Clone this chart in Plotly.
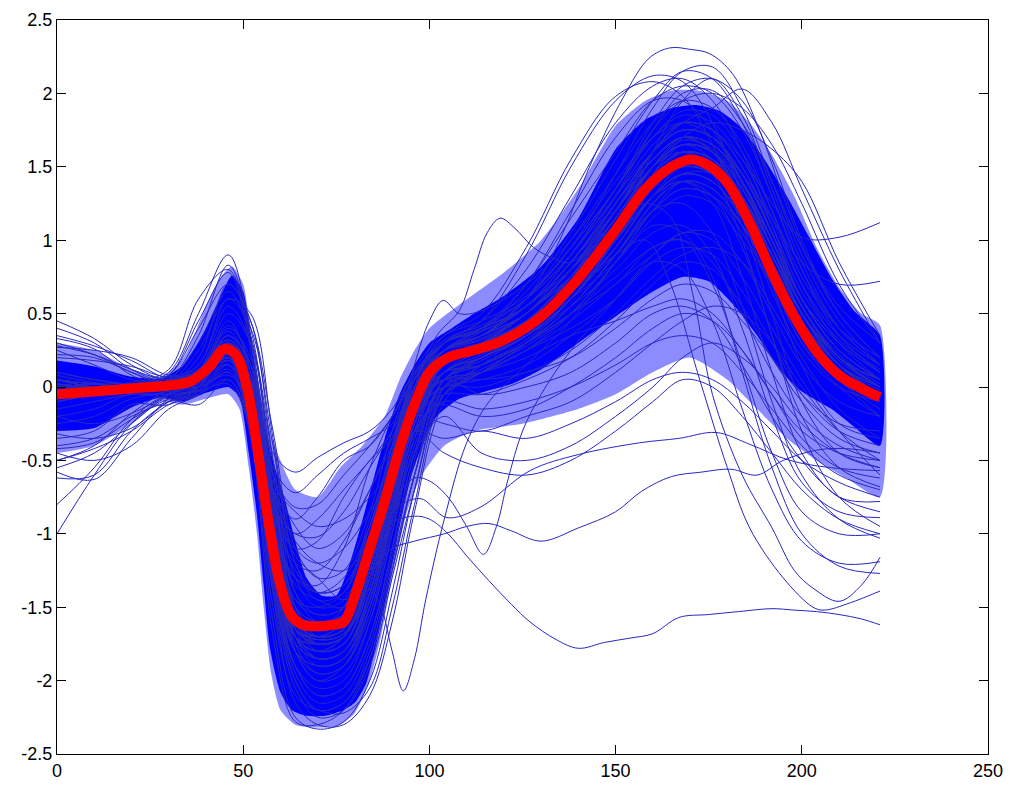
import plotly.graph_objects as go

# Sample positions shared by most of the individual waveforms
KNOTS = [0, 10, 20, 30, 38, 46, 52, 58, 64, 70, 77, 84, 90, 96, 104,
         114, 126, 138, 150, 160, 168, 176, 184, 192, 200, 210, 221]

# Average waveform (red)
MEAN_X = [0, 10, 20, 30, 36, 41, 45, 48, 51, 54, 57, 60, 63, 66, 70, 74, 77, 80, 84, 88,
          92, 96, 100, 105, 112, 120, 130, 140, 150, 158, 165, 170, 175, 180, 186, 192,
          198, 204, 210, 216, 221]
MEAN_Y = [-0.05, -0.03, -0.01, 0.01, 0.04, 0.14, 0.26, 0.22, 0.0, -0.45, -0.95, -1.35,
          -1.56, -1.62, -1.63, -1.62, -1.6, -1.42, -1.1, -0.78, -0.42, -0.12, 0.1, 0.2,
          0.25, 0.32, 0.48, 0.74, 1.07, 1.35, 1.5, 1.55, 1.51, 1.39, 1.12, 0.78, 0.48,
          0.24, 0.08, -0.01, -0.07]

# Densely overplotted core of the bundle: upper and lower edges
CORE_UP_X = [0, 10, 20, 28, 34, 40, 44, 47, 50, 52, 55, 58, 61, 64, 67, 71, 75, 78, 81, 84,
             88, 92, 96, 100, 106, 112, 120, 130, 140, 150, 158, 165, 172, 178, 184, 190,
             196, 202, 208, 214, 221]
CORE_UP_Y = [0.18, 0.14, 0.07, 0.06, 0.15, 0.4, 0.62, 0.76, 0.65, 0.35, -0.2, -0.5, -0.75,
             -1.05, -1.3, -1.42, -1.42, -1.25, -1.0, -0.72, -0.35, -0.05, 0.15, 0.3, 0.4,
             0.5, 0.62, 0.82, 1.15, 1.62, 1.82, 1.9, 1.92, 1.88, 1.76, 1.55, 1.3, 1.02,
             0.74, 0.52, 0.35]
CORE_LO_X = [0, 10, 20, 28, 34, 40, 46, 49, 51.5, 53.7, 55.5, 57.2, 60, 63, 67, 72, 77, 80,
             83, 86, 89, 92, 95, 98, 102, 108, 115, 122, 130, 140, 150, 160, 168, 175, 182,
             188, 194, 200, 208, 214, 221]
CORE_LO_Y = [-0.3, -0.28, -0.14, -0.07, -0.1, -0.04, 0.0, -0.07, -0.45, -0.87, -1.35, -1.78,
             -2.08, -2.2, -2.24, -2.24, -2.2, -2.15, -2.02, -1.72, -1.35, -0.95, -0.62, -0.4,
             -0.2, -0.08, -0.03, 0.02, 0.12, 0.3, 0.48, 0.65, 0.75, 0.72, 0.55, 0.35, 0.12,
             -0.03, -0.15, -0.27, -0.4]

# Looser outer zone where traces overlap less densely
HALO_UP_X = [0, 10, 20, 28, 34, 40, 44, 47, 50, 53, 56, 60, 64, 70, 76, 82, 88, 92, 96, 100,
             108, 120, 130, 140, 150, 158, 165, 172, 180, 186, 192, 198, 204, 210, 216, 221]
HALO_UP_Y = [0.3, 0.25, 0.12, 0.07, 0.2, 0.55, 0.75, 0.82, 0.7, 0.2, -0.2, -0.5, -0.7,
             -0.75, -0.55, -0.4, -0.2, 0.05, 0.25, 0.4, 0.56, 0.78, 1.0, 1.35, 1.78, 1.95,
             2.02, 2.02, 1.95, 1.8, 1.58, 1.3, 0.95, 0.68, 0.5, 0.42]
HALO_LO_X = [0, 10, 20, 28, 34, 40, 46, 49, 51.5, 53.7, 55.5, 57.5, 60, 64, 70, 76, 80, 84,
             87, 90, 94, 98, 104, 112, 125, 140, 150, 160, 170, 180, 188, 196, 204, 212, 221]
HALO_LO_Y = [-0.45, -0.4, -0.25, -0.1, -0.12, -0.08, -0.05, -0.15, -0.55, -1.0, -1.5, -1.95,
             -2.2, -2.3, -2.32, -2.3, -2.22, -2.0, -1.7, -1.3, -0.85, -0.6, -0.4, -0.3, -0.25,
             -0.15, -0.05, 0.1, 0.2, 0.05, -0.15, -0.35, -0.5, -0.62, -0.75]

# Waveforms starting high on the left
LEFT_HIGH = [
    [0.45, 0.33, 0.15, 0.05, 0.15, 0.55, 0.3, -0.6, -1.5, -1.7, -1.65, -1.1, -0.5, 0.0, 0.25, 0.35, 0.5, 0.8, 1.2, 1.55, 1.7, 1.6, 1.3, 0.9, 0.5, 0.2, 0.05],
    [0.4, 0.3, 0.12, 0.03, 0.1, 0.45, 0.1, -0.9, -1.6, -1.8, -1.75, -1.3, -0.7, -0.1, 0.2, 0.3, 0.45, 0.7, 1.1, 1.45, 1.65, 1.6, 1.35, 1.0, 0.6, 0.3, 0.1],
    [0.35, 0.28, 0.18, 0.06, 0.12, 0.35, 0.05, -1.0, -1.8, -2.0, -1.9, -1.5, -0.9, -0.3, 0.1, 0.2, 0.35, 0.6, 0.95, 1.3, 1.5, 1.45, 1.2, 0.85, 0.5, 0.2, 0.0],
    [0.3, 0.22, 0.1, 0.02, 0.05, 0.3, -0.1, -1.2, -1.9, -2.1, -2.05, -1.7, -1.1, -0.45, 0.05, 0.2, 0.4, 0.75, 1.2, 1.6, 1.8, 1.75, 1.5, 1.05, 0.6, 0.25, 0.05],
    [0.27, 0.25, 0.2, 0.08, 0.1, 0.4, 0.2, -0.7, -1.4, -1.55, -1.5, -1.05, -0.45, 0.05, 0.3, 0.38, 0.55, 0.9, 1.35, 1.7, 1.85, 1.8, 1.55, 1.15, 0.7, 0.35, 0.15],
    [0.22, 0.2, 0.1, 0.0, 0.02, 0.2, -0.2, -1.3, -2.0, -2.2, -2.15, -1.8, -1.2, -0.6, -0.05, 0.1, 0.3, 0.55, 0.9, 1.2, 1.35, 1.3, 1.1, 0.75, 0.4, 0.1, -0.1],
    [0.28, 0.22, 0.12, 0.05, 0.12, 0.5, 0.3, -0.5, -1.3, -1.5, -1.45, -1.0, -0.45, 0.05, 0.3, 0.4, 0.55, 0.85, 1.25, 1.6, 1.75, 1.7, 1.45, 1.05, 0.6, 0.3, 0.1],
    [0.2, 0.18, 0.14, 0.07, 0.15, 0.6, 0.4, -0.4, -1.2, -1.4, -1.35, -0.95, -0.4, 0.08, 0.32, 0.42, 0.6, 0.9, 1.3, 1.65, 1.8, 1.75, 1.5, 1.1, 0.65, 0.32, 0.12],
    [0.33, 0.26, 0.08, 0.0, 0.08, 0.42, 0.15, -0.85, -1.65, -1.85, -1.8, -1.4, -0.8, -0.2, 0.15, 0.25, 0.42, 0.72, 1.12, 1.5, 1.68, 1.62, 1.38, 1.0, 0.55, 0.22, 0.02],
    [0.25, 0.15, 0.05, 0.03, 0.2, 0.7, 0.45, -0.3, -1.1, -1.3, -1.25, -0.85, -0.3, 0.12, 0.35, 0.45, 0.62, 0.95, 1.35, 1.7, 1.88, 1.85, 1.6, 1.2, 0.75, 0.4, 0.2],
]

# Waveforms starting low on the left
LEFT_LOW = [
    [-1.0, -0.6, -0.25, -0.05, 0.0, 0.15, -0.1, -1.1, -1.7, -1.85, -1.8, -1.4, -0.8, -0.2, 0.15, 0.25, 0.4, 0.65, 1.0, 1.35, 1.5, 1.45, 1.2, 0.8, 0.4, 0.1, -0.1],
    [-0.8, -0.55, -0.22, -0.04, 0.02, 0.2, -0.05, -1.0, -1.65, -1.75, -1.7, -1.25, -0.65, -0.1, 0.2, 0.3, 0.45, 0.75, 1.15, 1.5, 1.65, 1.55, 1.25, 0.85, 0.45, 0.15, 0.0],
    [-0.58, -0.63, -0.35, -0.08, 0.0, 0.25, 0.0, -0.95, -1.6, -1.7, -1.65, -1.2, -0.6, -0.05, 0.2, 0.28, 0.42, 0.7, 1.05, 1.4, 1.55, 1.5, 1.2, 0.8, 0.4, 0.1, -0.05],
    [-0.55, -0.45, -0.25, -0.06, -0.02, 0.1, -0.25, -1.3, -1.95, -2.15, -2.1, -1.75, -1.15, -0.5, 0.05, 0.15, 0.3, 0.55, 0.9, 1.25, 1.45, 1.45, 1.25, 0.9, 0.5, 0.15, -0.05],
    [-0.5, -0.4, -0.18, -0.02, 0.03, 0.3, 0.05, -0.85, -1.5, -1.6, -1.55, -1.1, -0.5, 0.0, 0.25, 0.32, 0.5, 0.8, 1.2, 1.55, 1.7, 1.65, 1.4, 1.0, 0.55, 0.2, 0.0],
    [-0.4, -0.35, -0.2, -0.1, -0.05, 0.05, -0.3, -1.4, -2.05, -2.25, -2.2, -1.9, -1.3, -0.7, -0.05, 0.1, 0.25, 0.5, 0.85, 1.15, 1.3, 1.25, 1.0, 0.7, 0.35, 0.05, -0.2],
    [-0.62, -0.6, -0.3, -0.1, -0.03, 0.18, -0.1, -1.15, -1.8, -1.95, -1.9, -1.5, -0.9, -0.3, 0.1, 0.2, 0.35, 0.6, 0.95, 1.3, 1.45, 1.4, 1.15, 0.8, 0.45, 0.15, -0.05],
    [-0.35, -0.3, -0.12, -0.12, 0.0, 0.22, -0.05, -1.0, -1.7, -1.8, -1.75, -1.35, -0.75, -0.2, 0.15, 0.25, 0.4, 0.7, 1.1, 1.45, 1.6, 1.55, 1.3, 0.9, 0.5, 0.18, 0.0],
    [-0.45, -0.5, -0.4, -0.15, -0.05, 0.15, -0.15, -1.15, -1.75, -1.85, -1.8, -1.45, -0.85, -0.25, 0.1, 0.2, 0.35, 0.6, 1.0, 1.35, 1.5, 1.45, 1.2, 0.85, 0.45, 0.1, -0.1],
    [-0.25, -0.2, -0.08, -0.03, 0.02, 0.25, 0.0, -0.95, -1.6, -1.75, -1.7, -1.3, -0.7, -0.15, 0.15, 0.25, 0.4, 0.7, 1.05, 1.4, 1.55, 1.5, 1.25, 0.85, 0.45, 0.15, -0.05],
    [-0.42, -0.38, -0.22, -0.08, -0.02, 0.12, -0.2, -1.25, -1.9, -2.1, -2.05, -1.7, -1.1, -0.45, 0.05, 0.15, 0.3, 0.55, 0.9, 1.25, 1.4, 1.35, 1.1, 0.75, 0.35, 0.05, -0.15],
    [-0.32, -0.35, -0.28, -0.1, 0.0, 0.2, -0.05, -1.05, -1.7, -1.85, -1.8, -1.4, -0.8, -0.2, 0.15, 0.25, 0.42, 0.72, 1.1, 1.45, 1.6, 1.55, 1.3, 0.9, 0.5, 0.15, -0.02],
    [-0.5, -0.42, -0.3, -0.12, -0.05, 0.1, -0.25, -1.35, -2.0, -2.2, -2.15, -1.85, -1.25, -0.6, 0.0, 0.12, 0.28, 0.5, 0.85, 1.2, 1.35, 1.3, 1.05, 0.7, 0.3, 0.0, -0.2],
    [-0.2, -0.25, -0.18, -0.05, 0.05, 0.35, 0.15, -0.75, -1.45, -1.55, -1.5, -1.0, -0.4, 0.05, 0.3, 0.38, 0.55, 0.85, 1.25, 1.6, 1.75, 1.7, 1.45, 1.05, 0.6, 0.25, 0.05],
]

# Waveforms with unusual first peaks
FIRST_PEAK = [
    [0.1, 0.05, 0.02, 0.1, 0.5, 0.9, 0.35, -0.8, -1.7, -1.9, -1.85, -1.45, -0.85, -0.25, 0.15, 0.25, 0.4, 0.7, 1.1, 1.45, 1.6, 1.55, 1.3, 0.9, 0.5, 0.2, 0.0],
    [-0.1, -0.05, 0.0, 0.05, 0.35, 0.83, 0.4, -0.6, -1.5, -1.65, -1.6, -1.1, -0.5, 0.0, 0.25, 0.35, 0.5, 0.8, 1.2, 1.55, 1.7, 1.65, 1.4, 1.0, 0.55, 0.2, 0.05],
    [0.0, 0.02, 0.03, 0.12, 0.6, 0.8, 0.3, -0.9, -1.75, -1.95, -1.9, -1.55, -0.95, -0.35, 0.1, 0.2, 0.35, 0.6, 1.0, 1.35, 1.5, 1.45, 1.2, 0.85, 0.45, 0.15, -0.05],
    [0.05, 0.0, 0.0, 0.08, 0.45, 0.78, 0.25, -1.0, -1.8, -2.0, -1.95, -1.6, -1.0, -0.4, 0.05, 0.18, 0.35, 0.65, 1.05, 1.4, 1.6, 1.55, 1.3, 0.95, 0.5, 0.15, -0.05],
    [-0.15, -0.1, -0.05, -0.05, -0.03, 0.02, -0.3, -1.2, -1.8, -1.9, -1.85, -1.5, -0.9, -0.3, 0.1, 0.2, 0.35, 0.6, 1.0, 1.3, 1.45, 1.4, 1.15, 0.8, 0.4, 0.1, -0.1],
    [-0.2, -0.15, -0.05, -0.08, -0.12, 0.05, -0.25, -1.1, -1.7, -1.85, -1.8, -1.4, -0.8, -0.2, 0.15, 0.25, 0.4, 0.7, 1.1, 1.45, 1.6, 1.55, 1.3, 0.95, 0.5, 0.2, 0.0],
    [0.0, 0.0, 0.02, 0.08, 0.4, 0.7, 0.45, -0.5, -1.4, -1.6, -1.55, -1.05, -0.45, 0.05, 0.3, 0.4, 0.55, 0.85, 1.25, 1.6, 1.75, 1.7, 1.45, 1.05, 0.6, 0.25, 0.05],
    [0.05, 0.02, 0.0, 0.05, 0.3, 0.65, 0.35, -0.7, -1.55, -1.75, -1.7, -1.3, -0.7, -0.1, 0.2, 0.3, 0.45, 0.75, 1.15, 1.5, 1.65, 1.6, 1.35, 0.95, 0.5, 0.2, 0.0],
    [-0.05, 0.0, 0.0, 0.03, 0.25, 0.6, 0.5, -0.35, -1.2, -1.45, -1.4, -0.95, -0.4, 0.08, 0.3, 0.4, 0.55, 0.85, 1.25, 1.6, 1.75, 1.7, 1.45, 1.05, 0.6, 0.25, 0.05],
    [0.0, 0.0, 0.0, 0.0, 0.0, 0.08, -0.1, -1.0, -1.7, -1.85, -1.8, -1.45, -0.85, -0.25, 0.1, 0.2, 0.35, 0.6, 0.95, 1.3, 1.45, 1.4, 1.15, 0.8, 0.4, 0.1, -0.1],
]

# Waveforms with a shallow trough
SHALLOW_TROUGH = [
    [0.05, 0.0, 0.0, 0.02, 0.1, 0.35, 0.15, -0.45, -0.58, -0.48, -0.38, -0.3, -0.15, 0.1, 0.3, 0.4, 0.55, 0.85, 1.25, 1.6, 1.75, 1.7, 1.45, 1.05, 0.6, 0.25, 0.05],
    [0.0, 0.0, 0.02, 0.03, 0.12, 0.3, 0.05, -0.6, -0.82, -0.8, -0.6, -0.4, -0.2, 0.05, 0.3, 0.4, 0.6, 0.9, 1.3, 1.6, 1.75, 1.7, 1.45, 1.05, 0.6, 0.25, 0.05],
    [-0.05, -0.02, 0.0, 0.02, 0.1, 0.25, -0.05, -0.8, -1.0, -1.02, -0.85, -0.55, -0.3, 0.0, 0.25, 0.35, 0.5, 0.8, 1.2, 1.5, 1.65, 1.6, 1.35, 0.95, 0.55, 0.2, 0.0],
    [0.02, 0.0, 0.0, 0.02, 0.1, 0.3, 0.0, -0.85, -1.2, -1.25, -1.05, -0.7, -0.35, 0.0, 0.25, 0.33, 0.5, 0.8, 1.15, 1.5, 1.65, 1.6, 1.35, 0.95, 0.55, 0.2, 0.0],
    [-0.05, -0.03, 0.0, 0.0, 0.08, 0.2, -0.1, -1.0, -1.3, -1.35, -1.1, -0.55, -0.2, 0.05, 0.25, 0.3, 0.45, 0.75, 1.1, 1.45, 1.6, 1.55, 1.3, 0.9, 0.5, 0.15, -0.05],
    [0.0, 0.0, 0.0, 0.02, 0.1, 0.28, -0.05, -1.05, -1.45, -1.5, -1.4, -0.9, -0.45, -0.05, 0.2, 0.3, 0.45, 0.75, 1.15, 1.5, 1.65, 1.6, 1.35, 0.95, 0.5, 0.15, -0.05],
    [0.05, 0.02, 0.0, 0.02, 0.12, 0.38, 0.1, -0.7, -0.9, -0.75, -0.5, -0.4, -0.2, 0.1, 0.3, 0.4, 0.55, 0.85, 1.25, 1.55, 1.7, 1.65, 1.4, 1.0, 0.55, 0.2, 0.0],
    [0.0, 0.0, 0.0, 0.02, 0.1, 0.3, 0.0, -0.85, -1.1, -1.05, -0.75, -0.5, -0.35, -0.05, 0.2, 0.3, 0.45, 0.75, 1.1, 1.45, 1.6, 1.55, 1.3, 0.9, 0.5, 0.15, -0.05],
    [0.0, 0.0, 0.0, 0.02, 0.1, 0.25, -0.1, -0.95, -1.3, -1.4, -1.35, -1.0, -0.6, -0.2, 0.15, 0.25, 0.4, 0.7, 1.05, 1.4, 1.55, 1.5, 1.25, 0.85, 0.45, 0.12, -0.05],
    [0.02, 0.0, 0.0, 0.02, 0.12, 0.32, 0.1, -0.55, -0.72, -0.6, -0.45, -0.35, -0.25, 0.0, 0.25, 0.35, 0.5, 0.8, 1.2, 1.5, 1.65, 1.6, 1.35, 0.95, 0.55, 0.2, 0.0],
    [0.0, 0.0, 0.0, 0.02, 0.1, 0.3, 0.1, -0.6, -0.95, -1.1, -1.0, -0.7, -0.4, -0.05, 0.2, 0.3, 0.45, 0.75, 1.15, 1.5, 1.65, 1.6, 1.35, 0.95, 0.55, 0.2, 0.0],
    [0.02, 0.0, 0.0, 0.02, 0.1, 0.28, 0.0, -0.8, -1.25, -1.4, -1.3, -0.95, -0.5, -0.1, 0.2, 0.3, 0.45, 0.75, 1.1, 1.45, 1.6, 1.55, 1.3, 0.9, 0.5, 0.15, -0.05],
    [0.0, 0.0, 0.0, 0.02, 0.12, 0.32, 0.05, -0.7, -1.05, -1.2, -1.25, -1.05, -0.7, -0.25, 0.1, 0.25, 0.4, 0.7, 1.05, 1.4, 1.55, 1.5, 1.25, 0.85, 0.45, 0.12, -0.05],
    [0.0, 0.0, 0.0, 0.02, 0.1, 0.3, 0.05, -0.75, -1.15, -1.3, -1.45, -1.3, -0.85, -0.3, 0.1, 0.22, 0.38, 0.68, 1.05, 1.4, 1.55, 1.5, 1.25, 0.85, 0.45, 0.12, -0.05],
    [0.02, 0.0, 0.0, 0.02, 0.1, 0.3, 0.05, -0.65, -0.85, -0.95, -0.9, -0.75, -0.55, -0.2, 0.15, 0.28, 0.45, 0.75, 1.15, 1.5, 1.65, 1.6, 1.35, 0.95, 0.55, 0.2, 0.0],
    [0.0, 0.0, 0.0, 0.02, 0.1, 0.28, 0.0, -0.9, -1.35, -1.45, -1.5, -1.2, -0.7, -0.2, 0.15, 0.25, 0.4, 0.7, 1.1, 1.45, 1.6, 1.55, 1.3, 0.9, 0.5, 0.15, -0.05],
    [0.0, 0.0, 0.0, 0.02, 0.1, 0.3, 0.05, -0.7, -1.0, -0.9, -0.7, -0.5, -0.3, 0.0, 0.25, 0.35, 0.5, 0.8, 1.2, 1.55, 1.7, 1.65, 1.4, 1.0, 0.55, 0.2, 0.0],
    [0.0, 0.0, 0.0, 0.02, 0.1, 0.3, 0.05, -0.75, -1.1, -1.2, -1.1, -0.85, -0.6, -0.3, -0.05, 0.1, 0.3, 0.6, 1.0, 1.35, 1.5, 1.45, 1.2, 0.85, 0.45, 0.12, -0.05],
]

# Waveforms with the deepest trough
DEEP_TROUGH = [
    [-0.1, -0.05, -0.02, 0.0, 0.05, 0.2, -0.3, -1.6, -2.25, -2.33, -2.28, -2.0, -1.4, -0.7, 0.0, 0.2, 0.35, 0.6, 0.95, 1.3, 1.45, 1.4, 1.15, 0.8, 0.4, 0.1, -0.1],
    [0.0, 0.0, 0.0, 0.02, 0.1, 0.25, -0.15, -1.4, -2.15, -2.3, -2.3, -2.1, -1.6, -0.85, -0.1, 0.15, 0.3, 0.55, 0.9, 1.25, 1.4, 1.35, 1.1, 0.75, 0.4, 0.1, -0.1],
    [-0.05, 0.0, 0.0, 0.0, 0.05, 0.15, -0.35, -1.7, -2.28, -2.3, -2.2, -1.85, -1.25, -0.6, 0.05, 0.2, 0.38, 0.65, 1.0, 1.35, 1.5, 1.45, 1.2, 0.85, 0.45, 0.12, -0.08],
    [0.05, 0.02, 0.0, 0.02, 0.08, 0.22, -0.2, -1.5, -2.1, -2.2, -2.22, -2.05, -1.5, -0.8, -0.05, 0.15, 0.32, 0.6, 0.95, 1.3, 1.45, 1.4, 1.15, 0.8, 0.4, 0.1, -0.1],
]

# Waveforms dropping well below zero after the main peak
LATE_DROP = [
    [0.05, 0.0, 0.0, 0.02, 0.1, 0.3, 0.0, -1.0, -1.6, -1.7, -1.65, -1.2, -0.6, -0.05, 0.2, 0.3, 0.5, 0.75, 1.0, 1.3, 1.4, 1.25, 0.75, 0.1, -0.45, -0.75, -0.78],
    [-0.1, -0.05, 0.0, 0.0, 0.06, 0.2, -0.2, -1.2, -1.8, -1.9, -1.85, -1.4, -0.8, -0.2, 0.1, 0.2, 0.35, 0.55, 0.8, 1.05, 1.1, 0.9, 0.4, -0.2, -0.65, -0.85, -0.89],
    [0.1, 0.05, 0.02, 0.02, 0.08, 0.22, -0.1, -1.1, -1.7, -1.8, -1.75, -1.3, -0.7, -0.15, 0.1, 0.15, 0.3, 0.5, 0.7, 0.95, 1.0, 0.7, 0.15, -0.45, -0.85, -1.0, -1.0],
    [-0.05, -0.02, 0.0, 0.02, 0.1, 0.28, 0.05, -0.9, -1.55, -1.65, -1.6, -1.15, -0.55, 0.0, 0.2, 0.28, 0.45, 0.65, 0.9, 1.2, 1.25, 1.05, 0.55, -0.1, -0.6, -0.9, -1.03],
    [0.0, 0.0, 0.0, 0.0, 0.05, 0.18, -0.25, -1.3, -1.9, -2.05, -2.0, -1.6, -1.0, -0.35, 0.0, 0.1, 0.25, 0.4, 0.6, 0.85, 0.8, 0.45, -0.15, -0.7, -1.05, -1.2, -1.19],
    [0.08, 0.03, 0.0, 0.03, 0.12, 0.3, 0.0, -1.0, -1.65, -1.75, -1.7, -1.25, -0.65, -0.1, 0.15, 0.25, 0.4, 0.6, 0.85, 1.1, 1.05, 0.75, 0.1, -0.55, -1.0, -1.22, -1.27],
    [-0.02, 0.0, 0.0, 0.02, 0.1, 0.25, -0.1, -1.1, -1.7, -1.8, -1.75, -1.35, -0.75, -0.15, 0.15, 0.25, 0.45, 0.75, 1.1, 1.45, 1.6, 1.5, 1.1, 0.5, -0.1, -0.45, -0.55],
    [0.0, 0.0, 0.0, 0.02, 0.1, 0.28, -0.05, -1.05, -1.65, -1.75, -1.7, -1.25, -0.65, -0.1, 0.2, 0.3, 0.5, 0.85, 1.2, 1.55, 1.7, 1.6, 1.25, 0.7, 0.15, -0.25, -0.35],
    [0.0, 0.0, 0.0, 0.02, 0.1, 0.26, -0.1, -1.1, -1.7, -1.8, -1.7, -1.3, -0.7, -0.15, 0.15, 0.25, 0.4, 0.65, 0.95, 1.3, 1.4, 1.3, 0.95, 0.35, -0.3, -0.75, -0.95],
    [0.02, 0.0, 0.0, 0.02, 0.1, 0.27, -0.05, -1.05, -1.65, -1.75, -1.7, -1.25, -0.65, -0.1, 0.2, 0.3, 0.5, 0.8, 1.15, 1.5, 1.6, 1.45, 1.0, 0.35, -0.2, -0.55, -0.68],
]

# Waveforms with a weak, flat second peak
FLAT_SECOND = [
    [0.0, 0.0, 0.0, 0.02, 0.08, 0.22, -0.15, -1.15, -1.7, -1.8, -1.7, -1.3, -0.75, -0.3, -0.1, -0.15, -0.1, 0.0, 0.15, 0.3, 0.35, 0.3, 0.1, -0.15, -0.4, -0.6, -0.7],
    [-0.05, 0.0, 0.0, 0.02, 0.1, 0.25, -0.1, -1.05, -1.6, -1.65, -1.55, -1.05, -0.6, -0.3, -0.35, -0.3, -0.35, -0.25, -0.1, 0.05, 0.1, 0.05, -0.1, -0.3, -0.5, -0.65, -0.75],
    [0.05, 0.0, 0.0, 0.02, 0.1, 0.3, 0.0, -1.0, -1.6, -1.7, -1.65, -1.2, -0.6, -0.15, 0.05, 0.1, 0.2, 0.35, 0.45, 0.55, 0.6, 0.5, 0.25, -0.05, -0.3, -0.45, -0.5],
    [0.0, 0.0, 0.0, 0.02, 0.08, 0.2, -0.2, -1.2, -1.75, -1.85, -1.8, -1.4, -0.9, -0.45, -0.2, -0.45, -0.5, -0.4, -0.2, 0.0, 0.2, 0.3, 0.2, 0.0, -0.25, -0.45, -0.55],
    [0.02, 0.0, 0.0, 0.02, 0.1, 0.27, -0.05, -1.05, -1.65, -1.7, -1.65, -1.2, -0.6, -0.1, 0.1, 0.15, 0.3, 0.5, 0.75, 0.95, 1.0, 0.85, 0.5, 0.1, -0.2, -0.4, -0.5],
    [-0.03, 0.0, 0.0, 0.02, 0.1, 0.25, -0.1, -1.1, -1.7, -1.75, -1.7, -1.3, -0.7, -0.2, 0.0, 0.0, 0.1, 0.2, 0.4, 0.6, 0.7, 0.65, 0.45, 0.2, -0.05, -0.25, -0.3],
    [0.0, 0.0, 0.0, 0.02, 0.1, 0.25, -0.1, -1.1, -1.65, -1.75, -1.7, -1.25, -0.7, -0.3, -0.45, -0.55, -0.6, -0.5, -0.3, -0.1, 0.05, 0.0, -0.2, -0.45, -0.7, -0.9, -1.0],
    [0.0, 0.0, 0.0, 0.02, 0.1, 0.26, -0.05, -1.05, -1.6, -1.7, -1.65, -1.15, -0.5, -0.1, 0.05, -0.05, 0.0, 0.1, 0.3, 0.5, 0.55, 0.45, 0.15, -0.2, -0.5, -0.75, -0.85],
    [0.0, 0.0, 0.0, 0.02, 0.1, 0.25, -0.1, -1.1, -1.7, -1.75, -1.7, -1.3, -0.75, -0.2, -0.05, -0.05, 0.05, 0.2, 0.45, 0.7, 0.85, 0.8, 0.55, 0.2, -0.1, -0.35, -0.45],
    [0.0, 0.0, 0.0, 0.02, 0.1, 0.25, -0.1, -1.1, -1.7, -1.75, -1.7, -1.3, -0.7, -0.15, 0.0, 0.05, 0.15, 0.35, 0.6, 0.85, 0.95, 0.9, 0.65, 0.3, -0.05, -0.3, -0.4],
    [0.0, 0.0, 0.0, 0.02, 0.1, 0.26, -0.05, -1.05, -1.65, -1.72, -1.68, -1.25, -0.65, -0.15, -0.12, -0.2, -0.15, 0.0, 0.2, 0.4, 0.5, 0.45, 0.25, -0.05, -0.35, -0.55, -0.62],
    [0.0, 0.0, 0.0, 0.02, 0.1, 0.26, -0.05, -1.05, -1.65, -1.72, -1.68, -1.25, -0.65, -0.15, 0.05, 0.1, 0.25, 0.45, 0.7, 0.9, 1.05, 1.05, 0.85, 0.5, 0.15, -0.1, -0.2],
    [0.0, 0.0, 0.0, 0.02, 0.1, 0.26, -0.05, -1.05, -1.65, -1.72, -1.68, -1.25, -0.65, -0.2, -0.25, -0.3, -0.2, -0.1, 0.1, 0.3, 0.45, 0.55, 0.5, 0.3, 0.0, -0.3, -0.5],
    [0.0, 0.0, 0.0, 0.02, 0.1, 0.26, -0.05, -1.05, -1.65, -1.72, -1.68, -1.25, -0.65, -0.15, 0.05, 0.05, 0.1, 0.25, 0.5, 0.75, 0.9, 0.95, 0.85, 0.55, 0.2, -0.15, -0.35],
]

# Waveforms with a high second peak
HIGH_SECOND = [
    [0.0, 0.0, 0.0, 0.02, 0.12, 0.3, 0.0, -1.0, -1.6, -1.7, -1.65, -1.2, -0.6, -0.05, 0.25, 0.35, 0.6, 0.95, 1.45, 1.9, 2.15, 2.18, 1.9, 1.4, 0.9, 0.45, 0.15],
    [0.05, 0.02, 0.0, 0.03, 0.12, 0.32, 0.05, -0.9, -1.5, -1.6, -1.55, -1.1, -0.5, 0.0, 0.3, 0.45, 0.9, 1.5, 1.95, 2.12, 2.08, 1.8, 1.3, 0.75, 0.3, 0.05, -0.1],
    [0.0, 0.0, 0.0, 0.02, 0.1, 0.26, -0.05, -1.05, -1.65, -1.7, -1.65, -1.2, -0.6, -0.05, 0.2, 0.3, 0.5, 0.8, 1.25, 1.6, 1.8, 1.9, 2.03, 1.8, 1.35, 0.8, 0.3],
    [-0.05, 0.0, 0.0, 0.02, 0.1, 0.27, -0.05, -1.0, -1.6, -1.7, -1.65, -1.2, -0.6, -0.05, 0.2, 0.3, 0.5, 0.8, 1.2, 1.6, 1.8, 1.75, 1.55, 1.25, 1.02, 1.02, 1.12],
    [0.05, 0.02, 0.0, 0.02, 0.1, 0.3, 0.0, -0.95, -1.55, -1.65, -1.6, -1.15, -0.55, 0.0, 0.25, 0.35, 0.55, 0.8, 1.1, 1.5, 1.7, 1.65, 1.45, 1.15, 0.85, 0.7, 0.72],
    [0.0, 0.0, 0.0, 0.02, 0.12, 0.3, 0.0, -0.95, -1.55, -1.65, -1.6, -1.1, -0.5, 0.05, 0.35, 0.5, 0.95, 1.55, 1.98, 2.08, 1.98, 1.65, 1.15, 0.65, 0.25, 0.0, -0.1],
    [0.0, 0.0, 0.0, 0.02, 0.1, 0.25, -0.1, -1.1, -1.7, -1.75, -1.7, -1.25, -0.65, -0.1, 0.2, 0.3, 0.5, 0.75, 1.1, 1.6, 1.95, 2.1, 1.85, 1.35, 0.85, 0.4, 0.15],
    [0.0, 0.0, 0.0, 0.02, 0.1, 0.28, -0.05, -1.0, -1.6, -1.7, -1.65, -1.2, -0.6, -0.05, 0.25, 0.35, 0.6, 1.0, 1.45, 1.8, 1.95, 1.9, 1.65, 1.2, 0.7, 0.3, 0.05],
    [0.0, 0.0, 0.0, 0.02, 0.1, 0.28, -0.05, -1.0, -1.6, -1.7, -1.65, -1.2, -0.6, -0.05, 0.25, 0.38, 0.7, 1.2, 1.7, 1.95, 1.95, 1.75, 1.4, 0.95, 0.5, 0.15, 0.0],
    [0.0, 0.0, 0.0, 0.02, 0.1, 0.27, -0.05, -1.0, -1.6, -1.7, -1.65, -1.2, -0.6, -0.05, 0.2, 0.3, 0.45, 0.7, 1.05, 1.45, 1.7, 1.8, 1.75, 1.62, 1.4, 0.85, 0.35],
    [0.0, 0.0, 0.0, 0.02, 0.1, 0.28, -0.05, -1.0, -1.6, -1.7, -1.65, -1.2, -0.6, -0.05, 0.25, 0.4, 0.7, 1.15, 1.6, 1.95, 2.05, 2.0, 1.75, 1.3, 0.8, 0.35, 0.1],
    [0.0, 0.0, 0.0, 0.02, 0.1, 0.28, -0.05, -1.0, -1.6, -1.7, -1.65, -1.2, -0.6, -0.05, 0.25, 0.35, 0.6, 0.95, 1.35, 1.8, 2.05, 2.1, 1.95, 1.55, 1.0, 0.5, 0.2],
    [0.0, 0.0, 0.0, 0.02, 0.1, 0.28, -0.05, -1.0, -1.6, -1.7, -1.65, -1.2, -0.6, -0.05, 0.25, 0.35, 0.55, 0.9, 1.35, 1.75, 1.95, 2.0, 1.9, 1.65, 1.25, 0.7, 0.3],
    [0.0, 0.0, 0.0, 0.02, 0.1, 0.28, -0.05, -1.0, -1.6, -1.7, -1.65, -1.2, -0.6, -0.05, 0.3, 0.45, 0.8, 1.3, 1.8, 2.05, 2.1, 1.95, 1.6, 1.1, 0.6, 0.25, 0.05],
    [0.0, 0.0, 0.0, 0.02, 0.1, 0.28, -0.05, -1.0, -1.6, -1.7, -1.65, -1.2, -0.6, -0.05, 0.25, 0.35, 0.55, 0.85, 1.3, 1.75, 2.0, 2.02, 1.8, 1.4, 0.95, 0.55, 0.3],
    [0.0, 0.0, 0.0, 0.02, 0.1, 0.28, -0.05, -1.0, -1.6, -1.7, -1.65, -1.2, -0.6, -0.05, 0.25, 0.4, 0.65, 1.05, 1.55, 1.95, 2.15, 2.1, 1.8, 1.3, 0.8, 0.4, 0.15],
]

# Individual waveforms with their own sample positions
tallest_x = [0, 20, 38, 46, 52, 58, 64, 70, 77, 84, 90, 96, 104, 114, 126, 135, 143, 152, 159,
             164.6, 170, 175.3, 181.5, 188.8, 195, 202, 210, 221]
tallest_y = [0.0, 0.0, 0.1, 0.3, -0.05, -1.0, -1.55, -1.6, -1.55, -1.1, -0.55, -0.05, 0.25,
             0.35, 0.6, 1.0, 1.5, 1.97, 2.24, 2.31, 2.3, 2.27, 2.13, 1.74, 1.3, 0.85, 0.5, 0.2]

bump_120_x = [0, 20, 38, 46, 52, 58, 64, 70, 77, 84, 90, 96, 102, 108, 112, 115.5, 119, 123,
              128, 133, 138, 150, 160, 168, 176, 184, 192, 200, 210, 221]
bump_120_y = [0.0, 0.0, 0.08, 0.25, -0.1, -1.05, -1.6, -1.65, -1.6, -1.15, -0.55, 0.0, 0.35,
              0.52, 0.8, 1.05, 1.15, 1.08, 0.95, 0.88, 0.85, 1.2, 1.55, 1.7, 1.6, 1.3, 0.9,
              0.5, 0.2, 0.0]

bump_104_x = [0, 20, 38, 46, 52, 58, 64, 70, 77, 84, 90, 96, 100, 103.7, 108, 114, 126, 138,
              150, 160, 168, 176, 184, 192, 200, 210, 221]
bump_104_y = [0.0, 0.0, 0.05, 0.22, -0.1, -1.05, -1.6, -1.65, -1.6, -1.1, -0.45, 0.15, 0.45,
              0.59, 0.5, 0.52, 0.7, 1.0, 1.4, 1.7, 1.8, 1.7, 1.4, 0.95, 0.55, 0.2, 0.05]

dip_93_x = [0, 20, 38, 46, 52, 58, 64, 70, 77, 84, 87, 90, 93, 96, 99, 104, 110, 116, 126,
            138, 150, 160, 168, 176, 184, 192, 200, 210, 221]
dip_93_y = [0.0, 0.0, 0.1, 0.25, -0.1, -1.1, -1.55, -1.6, -1.55, -1.38, -1.5, -1.8, -2.07,
            -1.85, -1.45, -0.9, -0.38, -0.1, 0.15, 0.45, 0.85, 1.2, 1.4, 1.35, 1.1, 0.75,
            0.4, 0.1, -0.1]

lowest_x = [0, 20, 38, 46, 52, 58, 64, 70, 77, 84, 90, 96, 100, 105, 110, 116, 122, 127, 134,
            140, 147, 154, 160, 167, 175, 183, 192, 198, 204, 210, 216, 221]
lowest_y = [0.0, 0.0, 0.05, 0.2, -0.2, -1.2, -1.6, -1.65, -1.5, -1.05, -0.92, -0.88, -0.9,
            -1.0, -1.15, -1.32, -1.48, -1.6, -1.72, -1.78, -1.74, -1.71, -1.68, -1.57, -1.55,
            -1.53, -1.51, -1.52, -1.53, -1.55, -1.58, -1.62]

low_bump_x = [0, 20, 38, 46, 52, 58, 64, 70, 77, 84, 90, 96, 104, 110, 116, 122, 130, 140,
              150, 157, 165, 173, 181, 188, 195, 204, 212, 221]
low_bump_y = [0.0, 0.0, 0.08, 0.22, -0.1, -1.05, -1.55, -1.62, -1.58, -1.25, -1.1, -1.05,
              -1.0, -0.95, -0.93, -0.98, -1.05, -0.96, -0.85, -0.71, -0.61, -0.58, -0.56,
              -0.6, -0.5, -0.43, -0.42, -0.45]

dip_114_x = [0, 20, 38, 46, 52, 58, 64, 70, 77, 84, 90, 96, 100, 105, 110, 114.5, 118, 121,
             125, 130, 138, 150, 160, 168, 176, 184, 192, 200, 210, 221]
dip_114_y = [0.0, 0.0, 0.05, 0.2, -0.15, -1.2, -1.65, -1.7, -1.6, -1.2, -0.8, -0.62, -0.64,
             -0.75, -0.95, -1.14, -0.95, -0.64, -0.3, -0.05, 0.25, 0.6, 0.9, 1.05, 1.0, 0.75,
             0.4, 0.05, -0.3, -0.6]

dip_105_x = [0, 20, 38, 46, 52, 58, 64, 70, 77, 84, 90, 97.5, 104.7, 113.6, 127, 140, 156.5,
             167, 177, 186, 196.8, 208, 221]
dip_105_y = [0.0, 0.0, 0.06, 0.24, -0.1, -1.1, -1.6, -1.65, -1.55, -1.15, -0.85, -0.76,
             -0.89, -0.82, -0.57, -0.46, -0.38, -0.35, -0.31, -0.39, -0.5, -0.55, -0.57]

early_fall_x = [0, 20, 38, 46, 52, 58, 64, 70, 77, 84, 90, 96, 104, 114, 126, 138, 150, 158,
                164, 172.7, 180, 186, 195, 203, 206, 213, 221]
early_fall_y = [0.0, 0.0, 0.05, 0.22, -0.1, -1.05, -1.6, -1.65, -1.6, -1.15, -0.6, -0.1,
                0.15, 0.25, 0.4, 0.65, 0.9, 1.0, 0.75, 0.04, -0.55, -0.96, -1.3, -1.5,
                -1.52, -1.47, -1.39]

steep_fall_x = [0, 20, 38, 46, 52, 58, 64, 70, 77, 84, 90, 96, 104, 114, 126, 138, 150, 158,
                165, 171, 176, 184, 192, 198, 203, 210, 216, 221]
steep_fall_y = [0.0, 0.0, 0.06, 0.24, -0.1, -1.1, -1.6, -1.7, -1.6, -1.15, -0.55, -0.05,
                0.2, 0.3, 0.5, 0.8, 1.1, 1.25, 1.15, 0.6, -0.05, -0.6, -0.96, -1.25, -1.37,
                -1.46, -1.35, -1.16]

TRACE_BLUE = "rgb(40,40,195)"
CORE_BLUE = "rgb(0,0,255)"
HALO_BLUE = "rgba(0,0,255,0.45)"
MEAN_RED = "rgb(255,0,0)"

fig = go.Figure()


def add_zone(up_x, up_y, lo_x, lo_y, color):
    fig.add_trace(go.Scatter(
        x=up_x + lo_x[::-1], y=up_y + lo_y[::-1],
        mode="lines", fill="toself", fillcolor=color,
        line=dict(width=0, color=color, shape="spline", smoothing=0.6),
        hoverinfo="skip", showlegend=False,
    ))


def add_wave(xs, ys):
    fig.add_trace(go.Scatter(
        x=xs, y=ys, mode="lines",
        line=dict(color=TRACE_BLUE, width=1, shape="spline", smoothing=1.0),
        hoverinfo="skip", showlegend=False,
    ))


add_zone(HALO_UP_X, HALO_UP_Y, HALO_LO_X, HALO_LO_Y, HALO_BLUE)
add_zone(CORE_UP_X, CORE_UP_Y, CORE_LO_X, CORE_LO_Y, CORE_BLUE)

for group in (LEFT_HIGH, LEFT_LOW, FIRST_PEAK, SHALLOW_TROUGH, DEEP_TROUGH,
              LATE_DROP, FLAT_SECOND, HIGH_SECOND):
    for row in group:
        add_wave(KNOTS, row)

for xs, ys in ((tallest_x, tallest_y), (bump_120_x, bump_120_y), (bump_104_x, bump_104_y),
               (dip_93_x, dip_93_y), (lowest_x, lowest_y), (low_bump_x, low_bump_y),
               (dip_114_x, dip_114_y), (dip_105_x, dip_105_y),
               (early_fall_x, early_fall_y), (steep_fall_x, steep_fall_y)):
    add_wave(xs, ys)

# Mean waveform on top
fig.add_trace(go.Scatter(
    x=MEAN_X, y=MEAN_Y, mode="lines",
    line=dict(color=MEAN_RED, width=10, shape="spline", smoothing=1.0),
    hoverinfo="skip", showlegend=False,
))

X_TICKS = [0, 50, 100, 150, 200, 250]
Y_TICKS = [-2.5, -2, -1.5, -1, -0.5, 0, 0.5, 1, 1.5, 2, 2.5]
Y_TICK_TEXT = ["-2.5", "-2", "-1.5", "-1", "-0.5", "0", "0.5", "1", "1.5", "2", "2.5"]

axis_common = dict(
    showgrid=False, zeroline=False, showline=True, linecolor="black", linewidth=1,
    mirror="ticks", ticks="inside", ticklen=9, tickwidth=1, tickcolor="black",
    automargin=False,
)

fig.update_xaxes(range=[0, 250], tickvals=X_TICKS, **axis_common)
fig.update_yaxes(range=[-2.5, 2.5], tickvals=Y_TICKS, ticktext=Y_TICK_TEXT, **axis_common)

fig.update_layout(
    width=1011, height=787,
    margin=dict(l=57, r=23, t=20, b=33),
    paper_bgcolor="white", plot_bgcolor="white",
    font=dict(family="Liberation Sans, Arial, sans-serif", size=18, color="black"),
    showlegend=False,
)

fig.write_html("out.html")
